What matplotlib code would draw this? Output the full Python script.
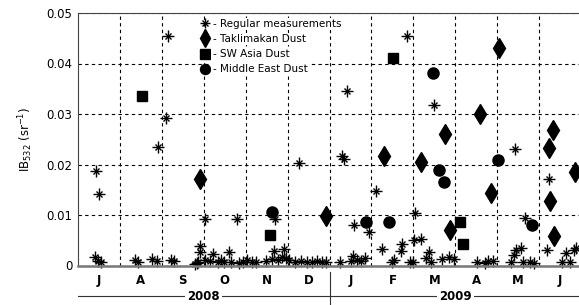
import numpy as np
import matplotlib
matplotlib.use('Agg')
import matplotlib.pyplot as plt

# x positions are in months counted from 1 July 2008 (0 = Jul 1, 6 = Jan 1 2009)
reg_x = [0.43, 0.50, 0.40, 0.48, 0.55,
         1.35, 1.43, 1.76, 1.88,
         2.14, 2.11, 1.92, 2.21, 2.30, 2.78, 2.83, 2.90, 2.92, 2.87, 3.04, 3.02,
         3.14, 3.23, 3.33, 3.42, 3.49, 3.61, 3.66, 3.80, 3.85, 3.94, 4.04,
         4.16, 4.25, 4.49, 4.63, 4.70, 4.68, 4.77, 4.92, 4.87, 4.96,
         5.04, 5.18, 5.27, 5.32, 5.46, 5.58, 5.70, 5.82, 5.91,
         6.29, 6.34, 6.41, 6.58, 6.94, 6.25, 6.51, 6.56, 6.65, 6.75, 6.84,
         7.10, 7.24, 7.48, 7.53, 7.70, 7.84, 7.93, 8.00,
         8.03, 7.74, 8.02, 8.17, 8.38, 8.29, 8.50, 8.43, 8.69, 8.86, 8.98,
         9.52, 9.71, 9.79, 9.90,
         10.33, 10.40, 10.45, 10.57, 10.43, 10.67, 10.62, 10.78, 10.88,
         11.24, 11.19, 11.54, 11.64, 11.73, 11.83, 11.88]
reg_y = [0.0187, 0.0142, 0.0017, 0.0008, 0.0006,
         0.0010, 0.0006, 0.0012, 0.0009,
         0.0455, 0.0292, 0.0235, 0.0011, 0.0008, 0.0003, 0.0004, 0.0026, 0.0038, 0.0006, 0.0092, 0.0010,
         0.0008, 0.0023, 0.0007, 0.0010, 0.0006, 0.0027, 0.0006, 0.0092, 0.0005, 0.0006, 0.0010,
         0.0006, 0.0006, 0.0008, 0.0013, 0.0092, 0.0028, 0.0011, 0.0032, 0.0016, 0.0014,
         0.0010, 0.0006, 0.0203, 0.0008, 0.0006, 0.0006, 0.0008, 0.0006, 0.0006,
         0.0217, 0.0210, 0.0345, 0.0080, 0.0066, 0.0006, 0.0008, 0.0018, 0.0011, 0.0008, 0.0015,
         0.0147, 0.0033, 0.0006, 0.0010, 0.0028, 0.0455, 0.0006, 0.0006,
         0.0104, 0.0043, 0.0050, 0.0053, 0.0027, 0.0014, 0.0318, 0.0006, 0.0012, 0.0016, 0.0013,
         0.0006, 0.0004, 0.0009, 0.0008,
         0.0006, 0.0020, 0.0030, 0.0035, 0.0231, 0.0095, 0.0006, 0.0006, 0.0004,
         0.0171, 0.0030, 0.0006, 0.0024, 0.0006, 0.0030, 0.0035]

tak_x = [2.90, 5.91, 7.29, 8.17, 8.76, 8.88, 9.60, 9.86, 10.05, 11.33, 11.24, 11.26, 11.35, 11.85]
tak_y = [0.0171, 0.0098, 0.0217, 0.0205, 0.0260, 0.0070, 0.0300, 0.0144, 0.0430,
         0.0268, 0.0233, 0.0128, 0.0058, 0.0185]

swa_x = [1.52, 4.58, 7.51, 9.10, 9.19]
swa_y = [0.0335, 0.0060, 0.0410, 0.0087, 0.0043]

me_x = [4.63, 6.86, 7.41, 8.46, 8.62, 8.72, 10.02, 10.83]
me_y = [0.0105, 0.0086, 0.0086, 0.0382, 0.0190, 0.0166, 0.0209, 0.0080]

months = ['J', 'A', 'S', 'O', 'N', 'D', 'J', 'F', 'M', 'A', 'M', 'J']
years = ['2008', '2009']

plt.rcParams['font.family'] = 'DejaVu Sans'
plt.rcParams['font.size'] = 8

fig = plt.figure(figsize=(5.79, 3.05), dpi=100)
ax = fig.add_axes([78 / 579, 1 - 265.5 / 305, 1 - 78 / 579, (265.5 - 13) / 305])

# asterisk = plus + cross overlaid
p1, = ax.plot(reg_x, reg_y, '+', color='black', ms=8, mew=1.0, ls='none', clip_on=False)
p2, = ax.plot(reg_x, reg_y, 'x', color='black', ms=5, mew=1.0, ls='none', clip_on=False)
h_tak, = ax.plot(tak_x, tak_y, 'd', color='black', ms=10, ls='none')
h_swa, = ax.plot(swa_x, swa_y, 's', color='black', ms=7.5, ls='none')
h_me, = ax.plot(me_x, me_y, 'o', color='black', ms=8, ls='none')

ax.set_xlim(0, 11.95)
ax.set_ylim(0, 0.05)
ax.set_yticks([0, 0.01, 0.02, 0.03, 0.04, 0.05])
ax.set_yticklabels(['0', '0.01', '0.02', '0.03', '0.04', '0.05'], fontsize=8.5)
ax.set_xticks(np.arange(1, 12))
ax.set_xticklabels([])
ax.set_xticks(np.arange(12) + 0.5, minor=True)
ax.set_xticklabels(months, minor=True, fontsize=8.5, fontweight='bold')
ax.tick_params(axis='x', which='both', length=0, pad=6)
ax.tick_params(axis='y', length=0, pad=4)
ax.grid(True, which='major', color='black', linestyle=(0, (3, 3)), linewidth=0.8)
ax.set_axisbelow(True)

ax.spines['right'].set_visible(False)
ax.spines['top'].set_color('#444444')
ax.spines['left'].set_color('#444444')
ax.spines['bottom'].set_color('#777777')
ax.spines['bottom'].set_linewidth(1.8)

ax.set_ylabel('IB$_{532}$ (sr$^{-1}$)', fontsize=8.5, labelpad=8)

# year labels with lines beneath month letters
tr = ax.get_xaxis_transform()
y_year = -0.121
ax.plot([0, 11.95], [y_year, y_year], color='#333333', lw=0.8, transform=tr, clip_on=False)
ax.plot([6, 6], [-0.026, -0.16], color='#333333', lw=0.8, transform=tr, clip_on=False)
for i, yr in enumerate(years):
    ax.text(3 + 6 * i, y_year, yr, transform=tr, ha='center', va='center', fontsize=8.5,
            fontweight='bold', bbox=dict(facecolor='white', edgecolor='none', pad=1.5))

leg = ax.legend([(p1, p2), h_tak, h_swa, h_me],
                ['- Regular measurements', '- Taklimakan Dust', '- SW Asia Dust', '- Middle East Dust'],
                loc='upper left', bbox_to_anchor=(0.242, 0.985), fontsize=7.5, frameon=False,
                handlelength=0.8, handletextpad=0.3, labelspacing=0.5, borderpad=0.2,
                borderaxespad=0, markerscale=0.9)
for t in leg.get_texts():
    t.set_bbox(dict(facecolor='white', edgecolor='none', pad=1))

fig.savefig('out.png', dpi=100)
